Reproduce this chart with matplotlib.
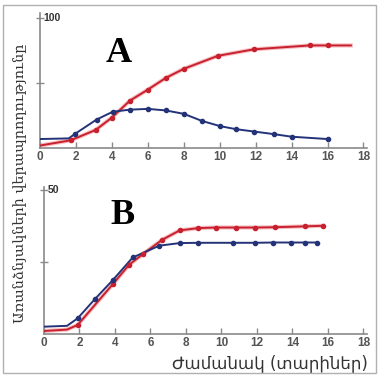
import matplotlib
matplotlib.use("Agg")
import matplotlib.pyplot as plt
from matplotlib.patches import Rectangle

# panel A (y axis 0..100)
a_red_x = [0, 1.7, 3.1, 4.0, 5.0, 6.0, 7.0, 8.0, 9.9, 11.9, 15.0, 16.0, 17.3]
a_red_y = [2, 6, 14, 23.5, 36.5, 45, 54, 61, 71, 76, 79, 79, 79]
a_red_marks = [1, 2, 3, 4, 5, 6, 7, 8, 9, 10, 11]
a_blue_x = [0, 1.6, 1.95, 3.15, 4.05, 5.0, 6.0, 7.0, 8.0, 9.0, 10.0, 10.9, 11.9, 13.0, 14.0, 16.0]
a_blue_y = [7, 7.5, 11, 22, 28, 29.6, 30.2, 29, 26.4, 21, 17, 14.6, 12.8, 10.8, 8.8, 7]
a_blue_marks = list(range(2, 16))

# panel B (y axis 0..50)
b_red_x = [0, 1.3, 1.9, 3.9, 4.8, 5.6, 6.65, 7.65, 8.7, 9.7, 10.8, 11.9, 13.0, 14.7, 15.7]
b_red_y = [1, 1.5, 3.1, 17.4, 24, 27.8, 32.6, 35.9, 36.7, 36.9, 36.9, 36.9, 37.0, 37.3, 37.5]
b_red_marks = list(range(2, 15))
b_blue_x = [0, 1.3, 1.9, 2.86, 3.9, 5.0, 6.5, 7.65, 8.7, 10.65, 11.9, 12.9, 13.9, 14.7, 15.4]
b_blue_y = [2.5, 2.8, 5.4, 12, 18.8, 26.5, 30.6, 31.5, 31.6, 31.6, 31.6, 31.7, 31.7, 31.7, 31.7]
b_blue_marks = list(range(2, 15))

x_ticks = [0, 2, 4, 6, 8, 10, 12, 14, 16, 18]

RED = "#c8202e"
BLUE = "#243278"
AXC = "#8a8a8a"
TXT = "#555555"

fig = plt.figure(figsize=(3.79, 3.76), dpi=100)
fig.patches.append(Rectangle((0.008, 0.008), 0.984, 0.978, transform=fig.transFigure,
                             fill=False, edgecolor="#b0b0b0", linewidth=1.0))

ax_a = fig.add_axes([0.1055, 0.606, 0.863, 0.3596])
ax_b = fig.add_axes([0.116, 0.112, 0.852, 0.391])

panels = [
    (ax_a, 100, 104, "A", 73, "100",
     [(a_red_x, a_red_y, a_red_marks, RED), (a_blue_x, a_blue_y, a_blue_marks, BLUE)]),
    (ax_b, 50, 51, "B", 41, "50",
     [(b_red_x, b_red_y, b_red_marks, RED), (b_blue_x, b_blue_y, b_blue_marks, BLUE)]),
]
for ax, ytop, ylim_top, letter, letter_y, toplab, series in panels:
    for xs, ys, marks, col in series:
        if col == RED:
            ax.plot(xs, ys, color="#f08a90", lw=3.0, alpha=0.55, zorder=2)
        ax.plot(xs, ys, color=col, lw=1.4, zorder=3)
        ax.plot([xs[i] for i in marks], [ys[i] for i in marks], "o", color=col,
                ms=3.0, zorder=4)
    ax.set_xlim(0, 18.2)
    ax.set_ylim(0, ylim_top)
    for s in ("top", "right"):
        ax.spines[s].set_visible(False)
    for s in ("left", "bottom"):
        ax.spines[s].set_color(AXC)
        ax.spines[s].set_linewidth(1.2)
    ax.set_facecolor("none")
    ax.set_xticks(x_ticks)
    ax.set_xticklabels([str(t) for t in x_ticks], fontsize=8.5, color=TXT,
                       family="Liberation Sans", fontweight="bold")
    ax.set_yticks([ytop / 2, ytop])
    ax.set_yticklabels([])
    ax.tick_params(axis="x", direction="in", length=4, width=1, color=AXC, pad=2)
    ax.tick_params(axis="y", direction="inout", length=6, width=1, color=AXC)
    ax.text(0.2, ytop, toplab, fontsize=7.5, color="#333333", ha="left", va="center",
            family="Liberation Sans", fontweight="bold")
    ax.text(4.4, letter_y, letter, fontsize=26, ha="center", va="center",
            family="Liberation Serif", fontweight="bold", color="black")

fig.text(0.053, 0.513, "Առանձնյակների վերապրողությունը", rotation=90, ha="center",
         va="center", fontsize=10.4, color="#333333", family=["DejaVu Serif", "DejaVu Sans"])
fig.text(0.712, 0.035, "Ժամանակ (տարիներ)", ha="center", va="center", fontsize=12,
         color="#333333", family=["DejaVu Sans"])

fig.savefig("out.png", dpi=100)
